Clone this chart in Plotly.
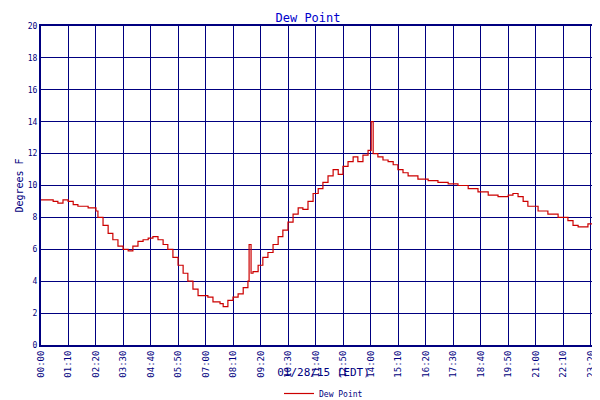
import plotly.graph_objects as go

minutes = [0,31,43,56,69,82,94,120,140,145,158,171,183,196,209,222,234,247,260,273,285,298,311,323,336,349,362,374,387,400,425,438,456,464,476,489,502,515,527,530,535,540,553,565,578,591,604,616,629,642,655,667,680,693,706,718,731,744,757,769,782,795,807,820,833,841,846,858,871,884,897,909,922,935,960,986,1011,1037,1062,1088,1113,1139,1164,1190,1202,1215,1228,1240,1266,1291,1317,1342,1355,1368,1393,1419,1439]
dew = [9.1,9.0,8.9,9.1,9.0,8.8,8.7,8.6,8.4,8.0,7.5,7.0,6.6,6.2,6.0,5.9,6.2,6.5,6.6,6.7,6.8,6.6,6.3,6.0,5.5,5.0,4.5,4.0,3.5,3.1,3.0,2.7,2.6,2.4,2.8,3.0,3.2,3.6,4.0,6.3,4.5,4.6,5.0,5.5,5.8,6.3,6.8,7.2,7.7,8.2,8.6,8.5,9.0,9.5,9.8,10.2,10.6,11.0,10.7,11.2,11.5,11.8,11.5,11.9,12.2,14.0,12.0,11.8,11.6,11.5,11.3,11.0,10.8,10.6,10.4,10.3,10.2,10.1,10.0,9.8,9.6,9.4,9.3,9.4,9.5,9.3,9.0,8.7,8.4,8.2,8.0,7.8,7.5,7.4,7.6,7.5,7.4]
tick_vals = [0,70,140,210,280,350,420,490,560,630,700,770,840,910,980,1050,1120,1190,1260,1330,1400,1439]
tick_text = ["00:00","01:10","02:20","03:30","04:40","05:50","07:00","08:10","09:20","10:30","11:40","12:50","14:00","15:10","16:20","17:30","18:40","19:50","21:00","22:10","23:20","23:59"]

navy = "#000080"
fig = go.Figure(go.Scatter(x=minutes, y=dew, mode="lines", line=dict(color="#cc0000", width=1.2, shape="hv"), name="Dew Point"))
fig.update_layout(
    width=600, height=400, margin=dict(l=33, r=2, t=18, b=63),
    paper_bgcolor="white", plot_bgcolor="white",
    font=dict(family="DejaVu Sans Mono", size=9, color=navy),
    title=dict(text="Dew Point", x=0.5, y=0.985, xanchor="center", yanchor="top", font=dict(size=12, color="#0000cc")),
    showlegend=True,
    legend=dict(orientation="h", x=0.5, xanchor="center", yref="container", y=0.0, yanchor="bottom", font=dict(size=8)),
)
fig.update_xaxes(range=[0, 1439], tickvals=tick_vals, ticktext=tick_text, tickangle=-90, automargin=False,
                 showgrid=True, gridcolor=navy, gridwidth=1.2, showline=True, linecolor=navy, linewidth=2, mirror=True,
                 title=dict(text="01/28/15 (EDT)", font=dict(size=11), standoff=4), zeroline=False)
fig.update_yaxes(range=[0, 20], dtick=2, showgrid=True, gridcolor=navy, gridwidth=1.2, showline=True, linecolor=navy,
                 linewidth=2, mirror=True, automargin=False, tickfont=dict(size=8),
                 title=dict(text="Degrees F", font=dict(size=10), standoff=2), zeroline=False)
fig.write_html("out.html")
